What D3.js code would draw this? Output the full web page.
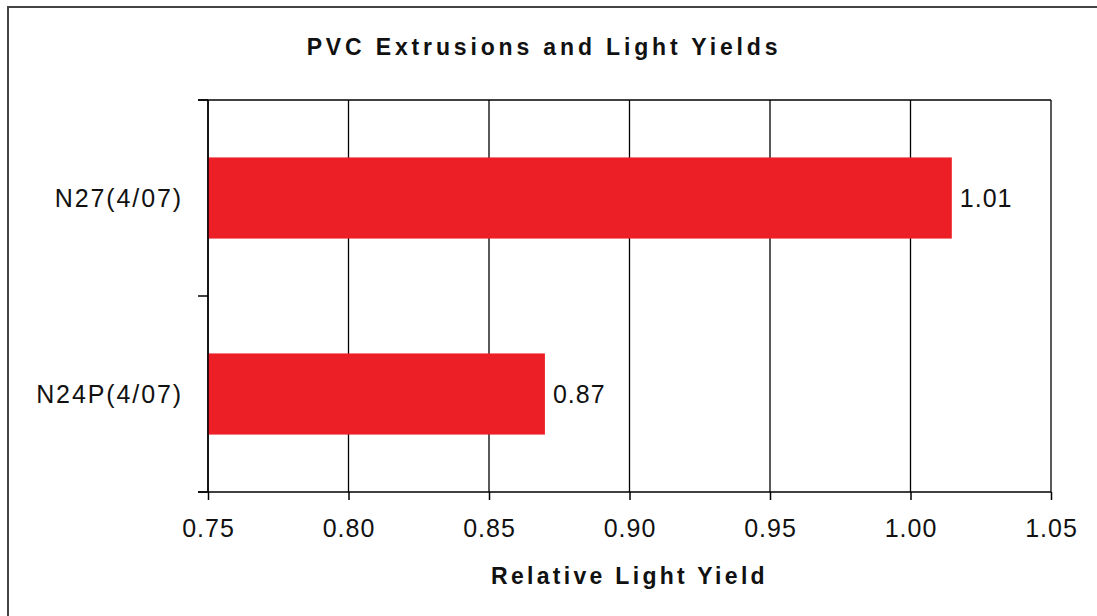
<!DOCTYPE html>
<html>
<head>
<meta charset="UTF-8" />
<title>PVC Extrusions and Light Yields</title>
<script src="https://d3js.org/d3.v7.min.js"></script>
<style>
  body { margin: 0; background: #fff; }
  text { font-family: "Liberation Sans", Arial, sans-serif; fill: #111; }
</style>
</head>
<body>
<div id="main"></div>
<script type="text/javascript">

// data
var categories = ["N27(4/07)", "N24P(4/07)"]
var yields = [1.0147, 0.8699]
var xTicks = [0.75, 0.80, 0.85, 0.90, 0.95, 1.00, 1.05]

var width = 1097
var height = 616
var margin = {left: 208, right: 46, top: 100, bottom: 124}

var svg = d3.select("#main").append("svg")
    .attr("width", width)
    .attr("height", height)

// outer frame (right / bottom edges fall outside the picture)
svg.append("rect")
    .attr("x", 8).attr("y", 7)
    .attr("width", 1100).attr("height", 620)
    .attr("fill", "none")
    .attr("stroke", "#444")
    .attr("stroke-width", 2)

var x = d3.scaleLinear()
    .domain([0.75, 1.05])
    .range([margin.left, width - margin.right])

var y = d3.scaleBand()
    .domain(categories)
    .range([margin.top, height - margin.bottom])
    .paddingInner(0.586)
    .paddingOuter(0.293)

var plotTop = margin.top, plotBottom = height - margin.bottom
var step = y.step()

// vertical grid lines
svg.append("g")
    .selectAll("line")
    .data(xTicks)
    .enter().append("line")
    .attr("x1", d => x(d)).attr("x2", d => x(d))
    .attr("y1", plotTop).attr("y2", plotBottom)
    .attr("stroke", "#000")
    .attr("stroke-width", 1.3)

// top border with its little tick
svg.append("line")
    .attr("x1", x(0.75) - 10).attr("x2", x(1.05))
    .attr("y1", plotTop).attr("y2", plotTop)
    .attr("stroke", "#000").attr("stroke-width", 1.5)

// bars
svg.append("g")
    .selectAll("rect")
    .data(categories)
    .enter().append("rect")
    .attr("x", x(0.75))
    .attr("y", d => y(d))
    .attr("width", (d, i) => x(yields[i]) - x(0.75))
    .attr("height", y.bandwidth())
    .attr("fill", "#ed1f26")

// value labels
svg.append("g")
    .selectAll("text")
    .data(categories)
    .enter().append("text")
    .attr("x", (d, i) => x(yields[i]) + 8)
    .attr("y", d => y(d) + y.bandwidth() / 2)
    .attr("dy", "0.36em")
    .style("font-size", "25px")
    .style("letter-spacing", "1px")
    .text((d, i) => d3.format(".2f")(yields[i]))

// x axis
var xAxis = d3.axisBottom(x)
    .tickValues(xTicks)
    .tickFormat(d3.format(".2f"))
    .tickSize(8)
    .tickSizeOuter(0)
    .tickPadding(19)

var gx = svg.append("g")
    .attr("transform", "translate(0," + plotBottom + ")")
    .call(xAxis)
gx.select(".domain").remove()
gx.selectAll("line").attr("stroke", "#000").attr("stroke-width", 1.5)
gx.selectAll("text")
    .style("font-size", "25px")
    .style("letter-spacing", "1px")
    .style("font-family", "'Liberation Sans', Arial, sans-serif")
    .attr("fill", "#111")
gx.append("line")
    .attr("x1", x(0.75) - 10).attr("x2", x(1.05))
    .attr("y1", 0).attr("y2", 0)
    .attr("stroke", "#000").attr("stroke-width", 1.5)

// y axis: lines and ticks at band boundaries
var yEdges = d3.range(categories.length + 1).map(i => plotTop + i * step)
svg.append("line")
    .attr("x1", x(0.75)).attr("x2", x(0.75))
    .attr("y1", plotTop).attr("y2", plotBottom)
    .attr("stroke", "#000").attr("stroke-width", 1.5)
svg.append("g")
    .selectAll("line")
    .data(yEdges)
    .enter().append("line")
    .attr("x1", x(0.75) - 10).attr("x2", x(0.75))
    .attr("y1", d => d).attr("y2", d => d)
    .attr("stroke", "#000").attr("stroke-width", 1.5)

svg.append("g")
    .selectAll("text")
    .data(categories)
    .enter().append("text")
    .attr("x", x(0.75) - 25)
    .attr("y", d => y(d) + y.bandwidth() / 2)
    .attr("dy", "0.36em")
    .attr("text-anchor", "end")
    .style("font-size", "25px")
    .style("letter-spacing", "1.9px")
    .text(d => d)

// titles
svg.append("text")
    .attr("x", 544)
    .attr("y", 55)
    .attr("text-anchor", "middle")
    .style("font-size", "23px")
    .style("font-weight", "bold")
    .style("letter-spacing", "3.85px")
    .attr("fill", "#000")
    .text("PVC Extrusions and Light Yields")

svg.append("text")
    .attr("x", (x(0.75) + x(1.05)) / 2)
    .attr("y", 584)
    .attr("text-anchor", "middle")
    .style("font-size", "23px")
    .style("font-weight", "bold")
    .style("letter-spacing", "3.3px")
    .attr("fill", "#000")
    .text("Relative Light Yield")

</script>
</body>
</html>
